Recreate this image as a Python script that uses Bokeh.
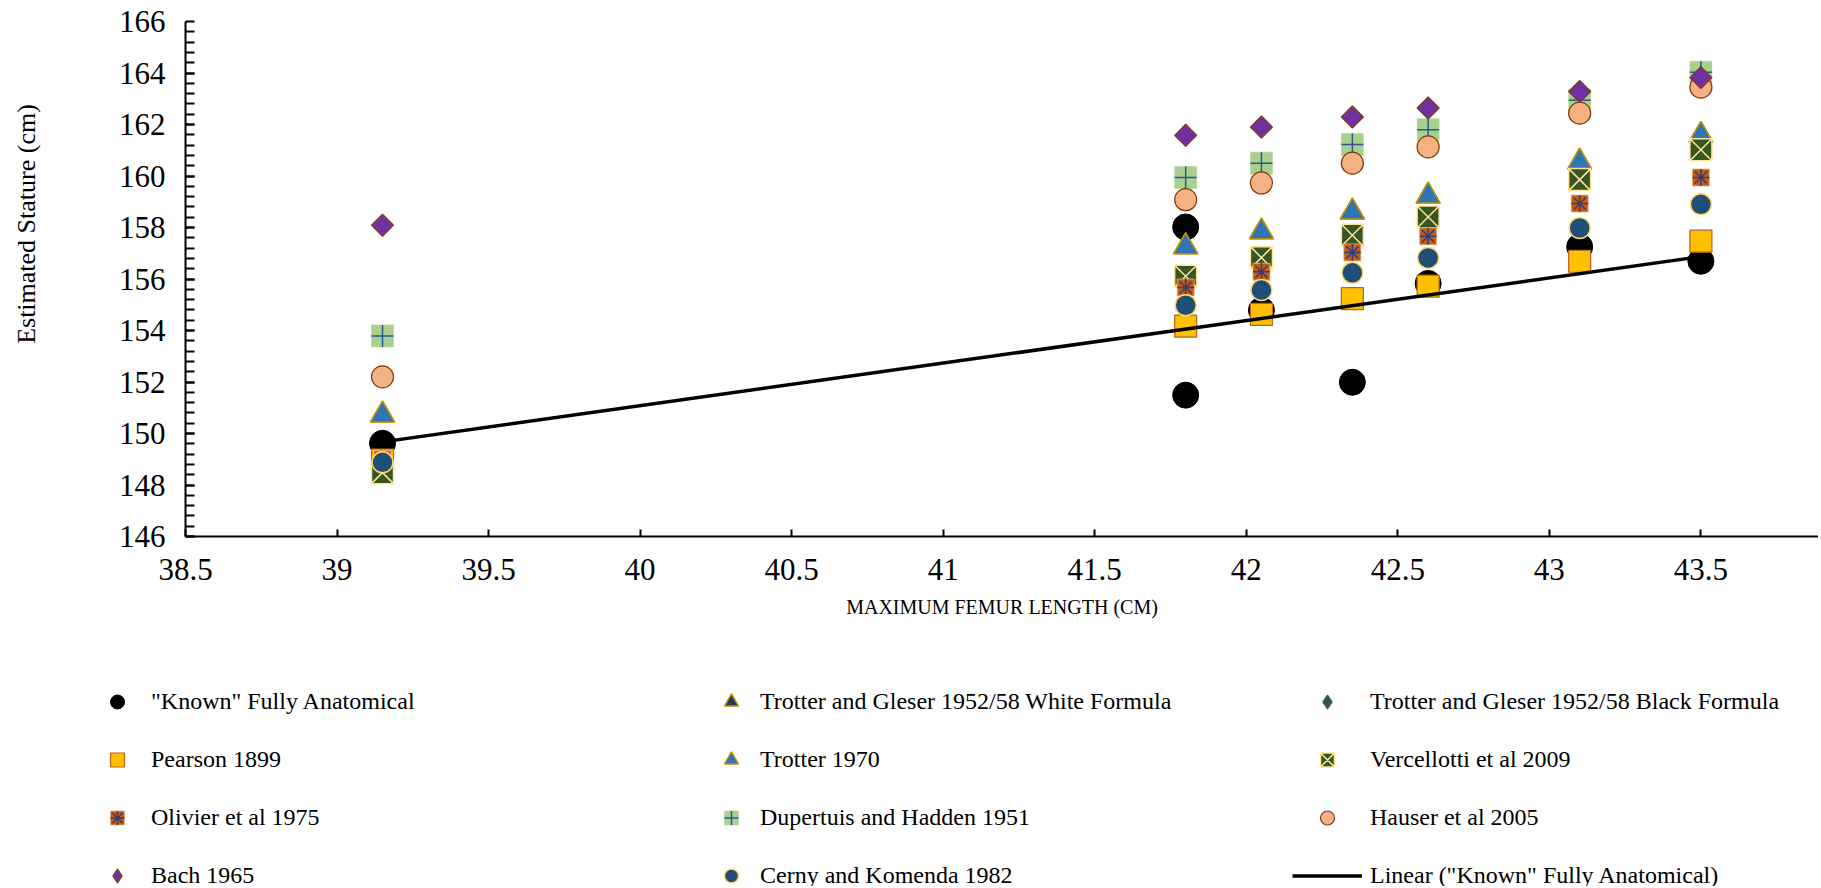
import math
import numpy as np
from bokeh.plotting import figure
from bokeh.layouts import column, row
from bokeh.models import Range1d, Legend, LegendItem, Label, FixedTicker, NumeralTickFormatter
from bokeh.embed import file_html
from bokeh.resources import INLINE

# ---------------- data ----------------
femur = [39.15, 41.8, 42.05, 42.35, 42.6, 43.1, 43.5]

known_x = [39.15, 41.8, 41.8, 42.05, 42.35, 42.6, 43.1, 43.5]
known_y = [149.62, 158.02, 151.49, 154.79, 151.99, 155.83, 157.25, 156.69]

tg_white = [150.72, 157.25, 157.83, 158.60, 159.22, 160.54, 161.58]
tg_black = [148.95, 155.05, 155.60, 156.30, 156.85, 158.00, 158.92]
pearson = [148.97, 154.17, 154.63, 155.24, 155.72, 156.69, 157.47]
trotter1970 = [150.72, 157.25, 157.83, 158.60, 159.22, 160.54, 161.58]
vercellotti = [148.48, 156.11, 156.83, 157.70, 158.41, 159.86, 161.02]
olivier = [149.00, 155.67, 156.28, 157.03, 157.66, 158.93, 159.94]
dupertuis = [153.79, 159.94, 160.50, 161.22, 161.80, 162.94, 164.03]
hauser = [152.20, 159.08, 159.73, 160.50, 161.13, 162.44, 163.45]
bach = [158.09, 161.58, 161.90, 162.29, 162.64, 163.28, 163.82]
cerny = [148.88, 154.98, 155.57, 156.24, 156.82, 157.98, 158.90]

x_ticks = [38.5, 39, 39.5, 40, 40.5, 41, 41.5, 42, 42.5, 43, 43.5]
y_ticks = [146, 148, 150, 152, 154, 156, 158, 160, 162, 164, 166]

labels = {
    "known": '"Known" Fully Anatomical',
    "tgw": "Trotter and Gleser 1952/58 White Formula",
    "tgb": "Trotter and Gleser 1952/58 Black Formula",
    "pearson": "Pearson 1899",
    "trotter": "Trotter 1970",
    "verc": "Vercellotti et al 2009",
    "olivier": "Olivier et al 1975",
    "dup": "Dupertuis and Hadden 1951",
    "hauser": "Hauser et al 2005",
    "bach": "Bach 1965",
    "cerny": "Cerny and Komenda 1982",
    "linear": 'Linear ("Known" Fully Anatomical)',
}
x_title = "MAXIMUM FEMUR LENGTH (CM)"
y_title = "Estimated Stature (cm)"

FONT = "Liberation Serif"
W = 1818
TW = 52          # width of the y-title strip
H_MAIN = 640
H_LEG = 246


def draw_series(fig, bach_marker):
    r = {}
    r["known"] = [fig.scatter(known_x, known_y, marker="circle", size=26,
                              fill_color="black", line_color="black")]
    r["tgw"] = [fig.scatter(femur, tg_white, marker="triangle", size=24,
                            fill_color="#203864", line_color="#BF9000", line_width=1.5)]
    r["tgb"] = [fig.scatter(femur, tg_black, marker="diamond", size=18,
                            fill_color="#385723", line_color="#2F5597", line_width=1.2)]
    r["pearson"] = [fig.scatter(femur, pearson, marker="square", size=22,
                                fill_color="#FFC000", line_color="#B5651D", line_width=1.2)]
    r["trotter"] = [fig.scatter(femur, trotter1970, marker="triangle", size=24,
                                fill_color="#2E75B6", line_color="#BF9000", line_width=1.5)]
    r["verc"] = [fig.scatter(femur, vercellotti, marker="square_x", size=22,
                             fill_color="#375623", line_color="#FFE699", line_width=1.5)]
    r["olivier"] = [fig.scatter(femur, olivier, marker="square", size=17,
                                fill_color="#C55A11", line_color="#F4B183", line_width=0.8),
                    fig.scatter(femur, olivier, marker="asterisk", size=17,
                                line_color="#2F3E7A", line_width=1.5)]
    r["dup"] = [fig.scatter(femur, dupertuis, marker="square", size=22,
                            fill_color="#A9D18E", line_color="#A9D18E", line_width=0.5),
                fig.scatter(femur, dupertuis, marker="cross", size=22,
                            line_color="#2F5597", line_width=1.5)]
    r["hauser"] = [fig.scatter(femur, hauser, marker="circle", size=22,
                               fill_color="#F4B183", line_color="#843C0C", line_width=1.2)]
    if bach_marker == "diamond":
        r["bach"] = [fig.scatter(femur, bach, marker="diamond", size=22,
                                 fill_color="#7030A0", line_color="#843C0C", line_width=1.2)]
    else:
        r["bach"] = [fig.scatter(femur, bach, marker="square", size=15.6, angle=math.pi / 4,
                                 fill_color="#7030A0", line_color="#843C0C", line_width=1.2)]
    r["cerny"] = [fig.scatter(femur, cerny, marker="circle", size=21,
                              fill_color="#1F4E79", line_color="#FFD966", line_width=1.5)]
    slope, intercept = np.polyfit(known_x, known_y, 1)
    tx = [min(known_x), max(known_x)]
    ty = [slope * v + intercept for v in tx]
    r["linear"] = [fig.line(tx, ty, line_color="black", line_width=3.5)]
    return r


def blank(width, height):
    f = figure(width=width, height=height, x_range=Range1d(0, 1), y_range=Range1d(0, 1),
               x_axis_type=None, y_axis_type=None,
               output_backend="svg", toolbar_location=None,
               min_border=0, min_border_left=0, min_border_right=0,
               min_border_top=0, min_border_bottom=0)
    f.outline_line_color = None
    f.grid.visible = False
    return f


# ---------------- main plot ----------------
p = figure(width=W - TW, height=H_MAIN,
           x_range=Range1d(38.5, 43.888), y_range=Range1d(146, 166),
           output_backend="svg", toolbar_location=None,
           min_border_left=185 - TW, min_border_right=0,
           min_border_top=21, min_border_bottom=H_MAIN - 536)
p.outline_line_color = None
p.xgrid.visible = False
p.ygrid.visible = False

p.xaxis.ticker = FixedTicker(ticks=x_ticks)
p.xaxis.formatter = NumeralTickFormatter(format="0.[0]")
minor = list(np.arange(y_ticks[0], y_ticks[-1] + 0.01, 0.4))
p.yaxis.ticker = FixedTicker(ticks=y_ticks, minor_ticks=minor)
p.yaxis.formatter = NumeralTickFormatter(format="0")
for ax in (p.xaxis[0], p.yaxis[0]):
    ax.axis_line_color = "black"
    ax.axis_line_width = 2
    ax.major_tick_line_color = "black"
    ax.major_tick_line_width = 2
    ax.major_tick_out = 0
    ax.minor_tick_out = 0
    ax.major_label_text_font = FONT
    ax.major_label_text_font_size = "31px"
    ax.major_label_text_color = "black"
p.xaxis.major_tick_in = 7
p.xaxis.minor_tick_line_color = None
p.xaxis.major_label_standoff = 22
p.xaxis.axis_label = x_title
p.xaxis.axis_label_text_font = FONT
p.xaxis.axis_label_text_font_size = "20px"
p.xaxis.axis_label_text_font_style = "normal"
p.xaxis.axis_label_text_color = "black"
p.xaxis.axis_label_standoff = 13
p.yaxis.major_tick_in = 9
p.yaxis.minor_tick_in = 9
p.yaxis.minor_tick_line_color = "black"
p.yaxis.minor_tick_line_width = 2
p.yaxis.major_label_standoff = 20

draw_series(p, "square")

# ---------------- y-title strip ----------------
pt = blank(TW, H_MAIN)
pt.add_layout(Label(x=25.5, y=H_MAIN - 223.5, x_units="screen", y_units="screen",
                    text=y_title, angle=math.pi / 2,
                    text_font=FONT, text_font_size="26px", text_color="black",
                    text_align="center", text_baseline="middle"))

# ---------------- legend panel ----------------
pl = blank(W, H_LEG)
rl = draw_series(pl, "diamond")

cols = [
    (["known", "pearson", "olivier", "bach"], 98, 38, 15),
    (["tgw", "trotter", "dup", "cerny"], 712, 38, 10),
    (["tgb", "verc", "hauser", "linear"], 1292, 70, 8),
]
for keys, vx, gw, standoff in cols:
    lg = Legend(items=[LegendItem(label=labels[k], renderers=rl[k]) for k in keys],
                location=(vx, -6.5), orientation="vertical",
                glyph_width=gw, glyph_height=35, label_height=35, spacing=23,
                padding=0, margin=0, border_line_color=None,
                background_fill_alpha=0, label_standoff=standoff,
                label_text_font=FONT, label_text_font_size="24px",
                label_text_color="black")
    pl.add_layout(lg)

for fig in (p, pt, pl):
    try:
        fig.frame_align = False
    except Exception:
        pass

layout = column(row(pt, p, spacing=0), pl, spacing=0)
open("out.html", "w").write(file_html(layout, INLINE))
